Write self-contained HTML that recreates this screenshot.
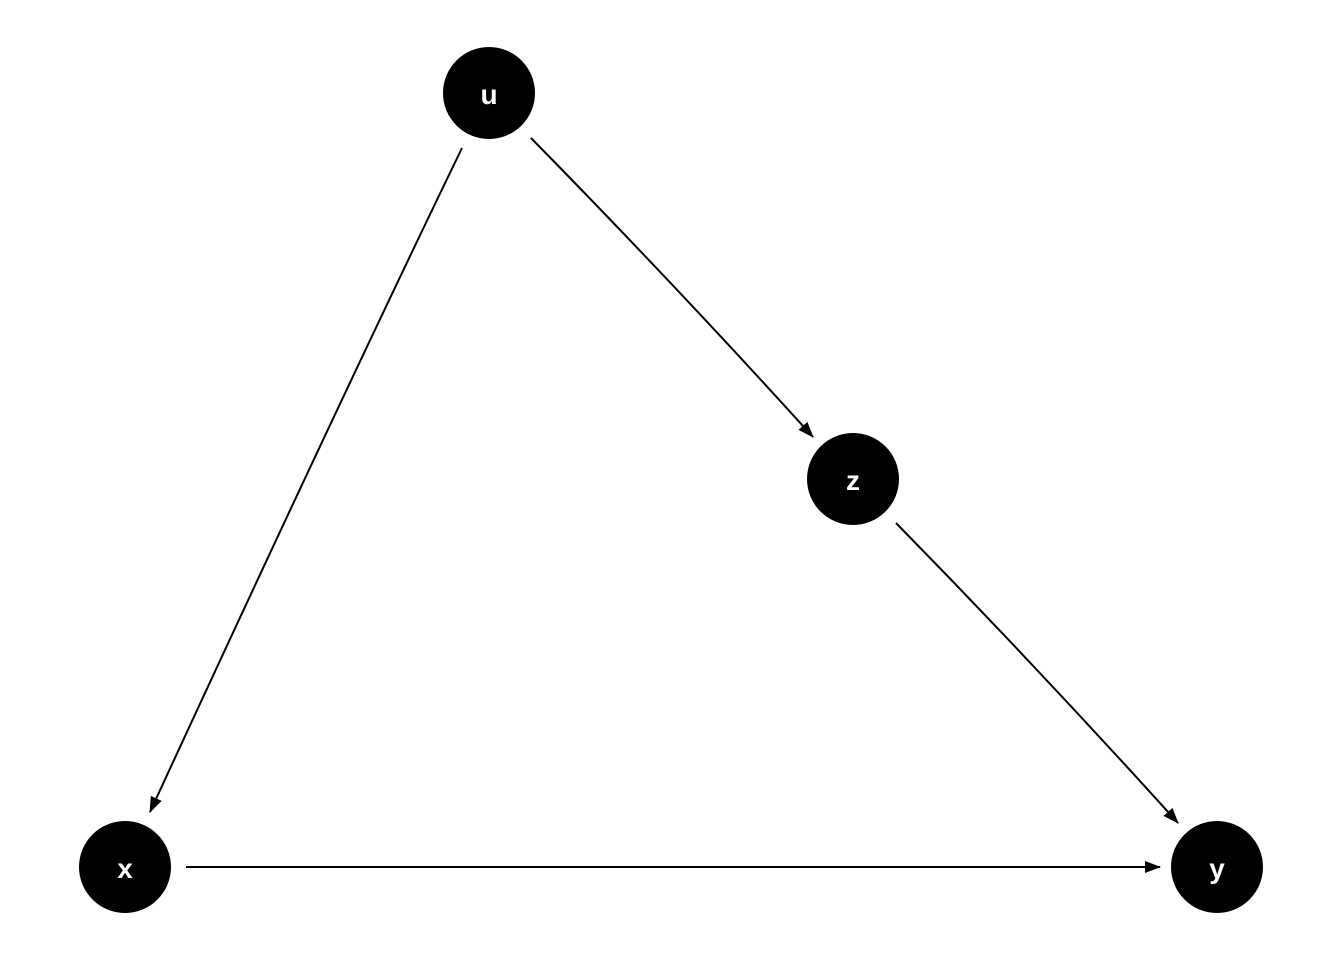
<!DOCTYPE html>
<html><head><style>body{margin:0;background:#fff}svg{display:block}</style></head><body>
<svg width="1344" height="960" xmlns="http://www.w3.org/2000/svg">
<defs><marker id="a" markerWidth="16" markerHeight="12" refX="15" refY="6" orient="auto" markerUnits="userSpaceOnUse" viewBox="0 0 16 12"><path d="M0,0 L16,6 L0,12 Z" fill="#000"/></marker></defs>
<g stroke="#000" stroke-width="2" fill="none" marker-end="url(#a)">
<path d="M462,148 Q340,400 150,812"/>
<path d="M531,138 Q680,290 813,437"/>
<path d="M896,523 Q1040,670 1178,823"/>
<path d="M186,867 L1160,867"/>
</g>
<g fill="#000">
<circle cx="489" cy="93" r="46"/><circle cx="853" cy="479" r="46"/><circle cx="125" cy="867" r="46"/><circle cx="1217" cy="867" r="46"/>
</g>
<g fill="#fff" font-family="Liberation Sans, sans-serif" font-weight="bold" font-size="28" text-anchor="middle">
<text x="489" y="104">u</text><text x="853" y="490">z</text><text x="125" y="878">x</text><text x="1217" y="878">y</text>
</g>
</svg>
</body></html>
